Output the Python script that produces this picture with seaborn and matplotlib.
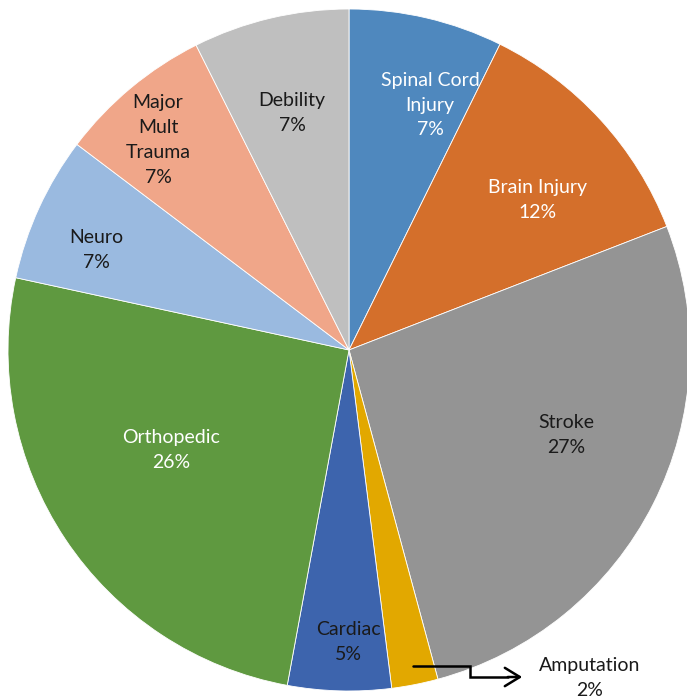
import matplotlib
matplotlib.use("Agg")
import matplotlib.pyplot as plt
import seaborn as sns
import numpy as np

# ---- data ----
categories = ["Spinal Cord\nInjury", "Brain Injury", "Stroke", "Amputation",
              "Cardiac", "Orthopedic", "Neuro", "Major\nMult\nTrauma", "Debility"]
values = [7.3, 11.8, 26.7, 2.2, 4.9, 25.5, 6.9, 7.3, 7.4]
pct_labels = ["7%", "12%", "27%", "2%", "5%", "26%", "7%", "7%", "7%"]

# ---- style ----
colors = ["#4F88BE", "#D46F2B", "#949494", "#E2A800", "#3D64AD",
          "#5F9940", "#9ABAE0", "#F0A689", "#BFBFBF"]
text_colors = ["white", "white", "#1a1a1a", "#1a1a1a", "#1a1a1a",
               "white", "#1a1a1a", "#1a1a1a", "#1a1a1a"]
# label centers in pixel coords (x from left, y from top)
label_pos = [(430, 105), (538, 200), (566, 435), None, (348, 642),
             (171, 450), (96, 250), (158, 140), (292, 113)]

sns.set_theme(style="white")
plt.rcParams["font.family"] = ["Lato", "DejaVu Sans"]

W, H = 687, 699
fig = plt.figure(figsize=(W / 100, H / 100), dpi=100)
ax = fig.add_axes([0, 0, 1, 1])

cx, cy, r = 349, H - 350, 341
ax.pie(values, colors=sns.color_palette(colors), startangle=90, counterclock=False,
       center=(cx, cy), radius=r,
       wedgeprops=dict(edgecolor="white", linewidth=0.6))
ax.set_xlim(0, W)
ax.set_ylim(0, H)
ax.set_aspect("equal")
ax.axis("off")

fs = 14
ls = 1.55
for cat, pct, pos, tc in zip(categories, pct_labels, label_pos, text_colors):
    if pos is None:
        continue
    ax.text(pos[0], H - pos[1], f"{cat}\n{pct}", ha="center", va="center",
            color=tc, fontsize=fs, linespacing=ls)

# Amputation leader + label
ax.plot([413, 470, 470, 508], [H - 666, H - 666, H - 677, H - 677],
        color="black", lw=1.8, solid_joinstyle="miter")
ax.annotate("", xy=(525, H - 677), xytext=(505, H - 677),
            arrowprops=dict(arrowstyle="->,head_length=0.9,head_width=0.55",
                            color="black", lw=1.8))
ax.text(590, H - 678, f"Amputation\n{pct_labels[3]}", ha="center", va="center",
        color="#1a1a1a", fontsize=fs, linespacing=ls, clip_on=False)

fig.savefig("out.png", dpi=100)
